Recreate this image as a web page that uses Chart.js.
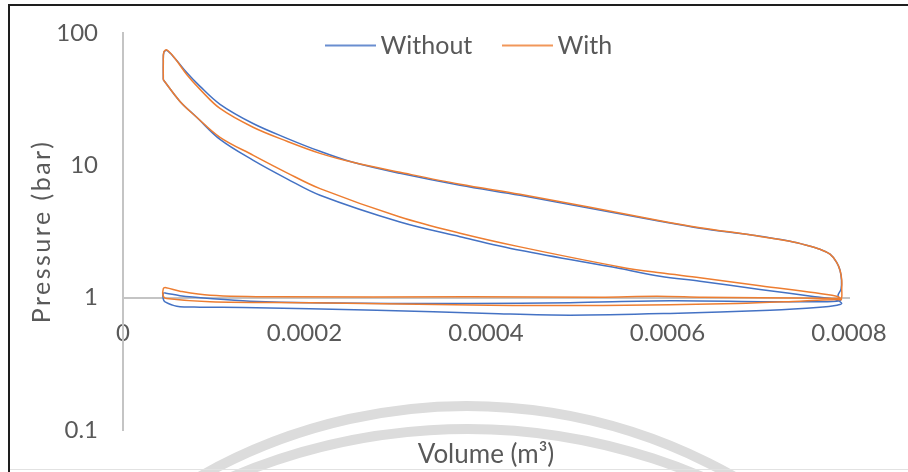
<!DOCTYPE html>
<html>
<head>
<meta charset="utf-8">
<script src="https://cdn.jsdelivr.net/npm/chart.js@4/dist/chart.umd.min.js"></script>
<style>
  html, body { margin: 0; padding: 0; background: #ffffff; }
  #wrap { width: 908px; height: 472px; position: relative; }
</style>
</head>
<body>
<div id="wrap"><canvas id="c" width="908" height="472"></canvas></div>
<script>
// ---------------- DATA ----------------
const seriesNames = ['Without', 'With'];

// "Without" cycle: combustion/expansion, blowdown, exhaust, intake, compression (m^3, bar)
const withoutVolume = [
  4.44e-5, 4.44e-5, 4.50e-5, 4.82e-5, 5.73e-5, 7.02e-5, 8.49e-5, 1.069e-4, 1.433e-4, 1.807e-4,
  2.171e-4, 2.534e-4, 3.052e-4, 3.714e-4, 4.375e-4, 5.146e-4, 5.917e-4, 6.358e-4, 6.942e-4, 7.350e-4,
  7.534e-4, 7.680e-4, 7.791e-4, 7.864e-4, 7.901e-4, 7.917e-4, 7.912e-4, 7.879e-4,
  7.901e-4, 7.460e-4, 7.130e-4, 6.028e-4, 4.926e-4, 3.824e-4, 2.061e-4, 1.400e-4, 9.59e-5, 6.28e-5,
  4.74e-5, 4.44e-5, 4.44e-5, 4.63e-5,
  5.92e-5, 8.49e-5, 1.322e-4, 2.796e-4, 4.044e-4, 4.926e-4, 6.028e-4, 7.130e-4, 7.680e-4, 7.868e-4, 7.920e-4,
  7.857e-4, 7.625e-4, 7.019e-4, 6.358e-4, 5.917e-4, 5.477e-4, 4.375e-4, 3.714e-4, 3.052e-4, 2.171e-4,
  1.807e-4, 1.436e-4, 1.069e-4, 8.12e-5, 6.28e-5, 4.44e-5
];
const withoutPressure = [
  44.3, 60, 71.5, 73.8, 64.2, 50.3, 39.5, 28.9, 20.7, 16.0,
  12.76, 10.54, 8.70, 7.07, 5.94, 4.74, 3.78, 3.35, 2.96, 2.67,
  2.49, 2.32, 2.13, 1.85, 1.61, 1.36, 1.16, 1.04,
  0.946, 0.933, 0.930, 0.946, 0.917, 0.904, 0.914, 0.941, 0.986, 1.035,
  1.081, 1.081, 0.974, 0.930,
  0.863, 0.848, 0.844, 0.805, 0.760, 0.738, 0.760, 0.805, 0.848, 0.878, 0.904,
  0.966, 1.017, 1.153, 1.332, 1.453, 1.661, 2.28, 2.89, 3.73, 5.94,
  7.91, 10.9, 15.7, 23.1, 30.4, 44.3
];

// "With" cycle
const withVolume = [
  4.44e-5, 4.44e-5, 4.50e-5, 4.82e-5, 5.73e-5, 7.02e-5, 8.49e-5, 1.069e-4, 1.433e-4, 1.807e-4,
  2.171e-4, 2.534e-4, 3.052e-4, 3.714e-4, 4.375e-4, 5.146e-4, 5.917e-4, 6.358e-4, 6.942e-4, 7.350e-4,
  7.534e-4, 7.680e-4, 7.791e-4, 7.864e-4, 7.901e-4, 7.920e-4, 7.920e-4, 7.917e-4,
  7.879e-4, 7.019e-4, 6.391e-4, 5.884e-4, 5.256e-4, 3.824e-4, 1.694e-4, 9.59e-5, 6.28e-5, 4.74e-5,
  4.44e-5, 4.44e-5, 4.82e-5,
  9.59e-5, 2.061e-4, 4.044e-4, 5.289e-4, 6.766e-4, 7.460e-4, 7.868e-4, 7.917e-4,
  7.864e-4, 7.019e-4, 6.358e-4, 5.917e-4, 5.477e-4, 4.375e-4, 3.714e-4, 3.052e-4, 2.171e-4,
  1.807e-4, 1.436e-4, 1.069e-4, 8.12e-5, 6.28e-5, 4.44e-5
];
const withPressure = [
  44.3, 60, 72, 74.5, 64.2, 48.6, 37.5, 26.9, 19.4, 15.2,
  12.32, 10.54, 8.86, 7.19, 6.04, 4.82, 3.81, 3.38, 2.96, 2.67,
  2.49, 2.32, 2.13, 1.85, 1.61, 1.36, 1.16, 0.991,
  0.986, 1.000, 1.009, 1.026, 1.009, 1.014, 1.014, 1.044, 1.12, 1.19,
  1.17, 1.026, 0.986,
  0.930, 0.914, 0.878, 0.873, 0.904, 0.941, 0.969, 0.966,
  1.026, 1.23, 1.416, 1.54, 1.708, 2.42, 3.07, 4.07, 6.67,
  8.78, 11.9, 16.3, 23.1, 30.4, 44.3
];

const xTickValues = [0, 0.0002, 0.0004, 0.0006, 0.0008];
const xTickLabels = ['0', '0.0002', '0.0004', '0.0006', '0.0008'];
const yTickValues = [0.1, 1, 10, 100];
const yTickLabels = ['0.1', '1', '10', '100'];

// ---------------- STYLE ----------------
const FONT = 'Lato';
const TEXT = '#595959';
const BLUE = '#4472C4';
const ORANGE = '#ED7D31';
const LEGEND_FS = 25;
const LEGEND_BOX = 35;
const LEGEND_X = 333;      // start of first legend item
const LEGEND_STEP = 177;   // distance between item starts
const LEGEND_CY = 45.5;    // vertical centre of legend

Chart.defaults.font.family = FONT;
Chart.defaults.color = TEXT;

function toPoints(xs, ys) { return xs.map((v, i) => ({ x: v, y: ys[i] })); }

function legendLine(color) {
  const c = document.createElement('canvas');
  c.width = 51; c.height = 4;
  const g = c.getContext('2d');
  g.globalAlpha = 0.8;
  g.strokeStyle = color; g.lineWidth = 2;
  g.beginPath(); g.moveTo(0, 2); g.lineTo(51, 2); g.stroke();
  return c;
}

const mctx = document.createElement('canvas').getContext('2d');
mctx.font = LEGEND_FS + 'px ' + FONT;
const tw1 = mctx.measureText(seriesNames[0]).width;
const legendPad = Math.max(4, LEGEND_STEP - LEGEND_BOX - LEGEND_FS / 2 - tw1);

const decor = {
  id: 'decor',
  beforeDraw(chart) {
    const ctx = chart.ctx;
    ctx.save();
    ctx.fillStyle = '#ffffff';
    ctx.fillRect(0, 0, chart.width, chart.height);
    // faint watermark rings
    ctx.strokeStyle = '#dcdcdc';
    ctx.lineWidth = 10;
    ctx.beginPath(); ctx.arc(467, 946, 540, Math.PI * 1.05, Math.PI * 1.95); ctx.stroke();
    ctx.beginPath(); ctx.arc(467, 1029, 600, Math.PI * 1.1, Math.PI * 1.9); ctx.stroke();
    // frame
    ctx.strokeStyle = '#e2e2e2'; ctx.lineWidth = 1;
    ctx.beginPath(); ctx.moveTo(9, 469.5); ctx.lineTo(908, 469.5); ctx.stroke();
    ctx.strokeStyle = '#1e1e1e'; ctx.lineWidth = 2;
    ctx.beginPath(); ctx.moveTo(9, 472); ctx.lineTo(9, 5); ctx.lineTo(908, 5); ctx.stroke();
    ctx.restore();
  }
};

const overlayTweaks = {
  id: 'overlayTweaks',
  beforeLayout(chart) {
    const L = chart.legend;
    if (L && !L._overlayPatched) {
      const fit = L.fit;
      L.fit = function () { fit.call(this); this.height = 0; };
      L._overlayPatched = true;
    }
  },
  afterLayout(chart) {
    const L = chart.legend;
    if (L && L.lineWidths) {
      const pad = L.options.labels.padding;
      const lw = L.lineWidths[0];
      const startX = (L.left + pad + L.right - lw) / 2;
      const dx = LEGEND_X - startX;
      L.left += dx; L.right += dx;
      L.top = LEGEND_CY - LEGEND_FS / 2 - pad;
      L.bottom = L.top + 2 * pad + LEGEND_FS + 4;
      L.height = L.bottom - L.top;
    }
    const ys = chart.scales.y;
    if (ys && !ys._spaced) {
      const dt = ys.drawTitle;
      ys.drawTitle = function () {
        this.ctx.save();
        this.ctx.letterSpacing = '2.5px';
        dt.call(this);
        this.ctx.restore();
      };
      ys._spaced = true;
    }
  }
};

new Chart(document.getElementById('c'), {
  type: 'scatter',
  data: {
    datasets: [
      {
        label: seriesNames[0],
        data: toPoints(withoutVolume, withoutPressure),
        showLine: true, borderColor: BLUE, backgroundColor: BLUE,
        borderWidth: 1.5, pointRadius: 0, tension: 0.35, fill: false,
        pointStyle: legendLine(BLUE), order: 1
      },
      {
        label: seriesNames[1],
        data: toPoints(withVolume, withPressure),
        showLine: true, borderColor: ORANGE, backgroundColor: ORANGE,
        borderWidth: 1.5, pointRadius: 0, tension: 0.35, fill: false,
        pointStyle: legendLine(ORANGE), order: 0
      }
    ]
  },
  options: {
    responsive: false,
    devicePixelRatio: 1,
    animation: false,
    events: [],
    layout: { padding: { left: 0, right: 59, top: 33, bottom: 42 } },
    plugins: {
      tooltip: { enabled: false },
      legend: {
        display: true,
        position: 'top',
        align: 'center',
        labels: {
          usePointStyle: true,
          pointStyleWidth: LEGEND_BOX,
          boxHeight: LEGEND_FS,
          padding: legendPad,
          color: TEXT,
          font: { size: LEGEND_FS, family: FONT },
          sort: (a, b) => a.datasetIndex - b.datasetIndex
        }
      }
    },
    scales: {
      x: {
        type: 'linear',
        min: 0, max: 0.0008,
        position: { y: 1 },
        grid: { display: false, drawTicks: true, tickLength: 21 },
        border: { display: true, color: '#c4c4c4', width: 2 },
        afterBuildTicks: (s) => { s.ticks = xTickValues.map(v => ({ value: v })); },
        ticks: {
          autoSkip: false, maxRotation: 0, padding: 0,
          color: TEXT, font: { size: 24, family: FONT },
          callback: (v) => { const i = xTickValues.findIndex(t => Math.abs(t - v) < 1e-9); return i >= 0 ? xTickLabels[i] : ''; }
        },
        title: {
          display: true, text: 'Volume (m³)', color: TEXT,
          font: { size: 26, family: FONT }, padding: { top: 92, bottom: 0 }
        }
      },
      y: {
        type: 'logarithmic',
        min: 0.1, max: 100,
        position: 'left',
        grid: { display: false, drawTicks: true, tickLength: 25 },
        border: { display: true, color: '#c4c4c4', width: 2 },
        afterBuildTicks: (s) => { s.ticks = yTickValues.map(v => ({ value: v })); },
        afterFit: (s) => { s.width = 123; },
        ticks: {
          autoSkip: false, padding: 0,
          color: TEXT, font: { size: 24, family: FONT },
          callback: (v) => { const i = yTickValues.findIndex(t => Math.abs(t - v) < 1e-9); return i >= 0 ? yTickLabels[i] : ''; }
        },
        title: {
          display: true, text: 'Pressure (bar)', color: TEXT,
          font: { size: 25, family: FONT }, padding: { top: 27, bottom: 0 }
        }
      }
    }
  },
  plugins: [decor, overlayTweaks]
});
</script>
</body>
</html>
